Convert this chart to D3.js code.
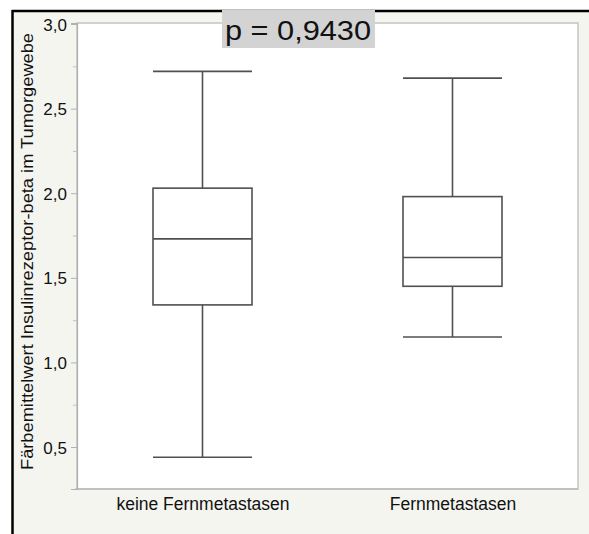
<!DOCTYPE html>
<html>
<head>
<meta charset="utf-8">
<script src="https://cdn.jsdelivr.net/npm/d3@7"></script>
<style>
  html, body { margin: 0; padding: 0; background: #ffffff; }
  svg { display: block; }
  text { font-family: "Liberation Sans", Arial, Helvetica, sans-serif; }
</style>
</head>
<body>
<svg id="chart" width="589" height="534"></svg>
<script>
// Groups and box-plot summaries (whisker low, Q1, median, Q3, whisker high)
const groups = ["keine Fernmetastasen", "Fernmetastasen"];
const whiskerLow = [0.44, 1.15];
const q1 = [1.34, 1.45];
const median = [1.73, 1.62];
const q3 = [2.03, 1.98];
const whiskerHigh = [2.72, 2.68];
const yTicks = [0.5, 1.0, 1.5, 2.0, 2.5, 3.0];
const yMinorTicks = [0.75, 1.25, 1.75, 2.25, 2.75];
const pLabel = "p = 0,9430";
const yTitle = "Färbemittelwert Insulinrezeptor-beta im Tumorgewebe";

const svg = d3.select("#chart");
const W = 589, H = 534;
const plot = { left: 77, right: 578, top: 23, bottom: 489 };

// Outer panel with black frame on top and left
svg.append("rect").attr("x", 12).attr("y", 10).attr("width", W - 12).attr("height", H - 10)
  .attr("fill", "#f5f5f0");
svg.append("line").attr("x1", 12).attr("x2", W).attr("y1", 11).attr("y2", 11)
  .attr("stroke", "#000").attr("stroke-width", 2.5);
svg.append("line").attr("x1", 12.5).attr("x2", 12.5).attr("y1", 10).attr("y2", H)
  .attr("stroke", "#000").attr("stroke-width", 2.5);

// Plot area
svg.append("rect").attr("x", plot.left).attr("y", plot.top)
  .attr("width", plot.right - plot.left).attr("height", plot.bottom - plot.top)
  .attr("fill", "#ffffff").attr("stroke", "#c4c4c4").attr("stroke-width", 1.5);

const y = d3.scaleLinear().domain([0.252, 3.006]).range([plot.bottom, plot.top]);
const x = d3.scalePoint().domain(groups).range([plot.left, plot.right]).padding(0.502);
const boxW = 99;

// Y axis
const fmt = d => d3.format(".1f")(d).replace(".", ",");
const yAxis = svg.append("g").attr("transform", `translate(${plot.left},0)`)
  .call(d3.axisLeft(y).tickValues(yTicks).tickFormat(fmt).tickSize(6).tickPadding(4));
yAxis.select(".domain").attr("stroke", "#b0b0b0").attr("stroke-width", 1.2);
yAxis.selectAll(".tick line").attr("stroke", "#b0b0b0");
yAxis.selectAll(".tick text").attr("fill", "#111").style("font-size", "17px").attr("dy", "0.36em");
svg.append("g").attr("transform", `translate(${plot.left},0)`)
  .call(d3.axisLeft(y).tickValues(yMinorTicks).tickFormat("").tickSize(4))
  .call(g => g.select(".domain").remove())
  .selectAll(".tick line").attr("stroke", "#c0c0c0");

// X axis
const xAxis = svg.append("g").attr("transform", `translate(0,${plot.bottom})`)
  .call(d3.axisBottom(x).tickSize(0).tickPadding(8));
xAxis.select(".domain").attr("stroke", "#b0b0b0").attr("stroke-width", 1.2)
  .attr("d", `M${plot.left - 2},0H${plot.right}`);
xAxis.selectAll(".tick text").attr("fill", "#111").style("font-size", "17.5px")
  .attr("y", 21).attr("dy", 0);

// Y title
svg.append("text")
  .attr("transform", `translate(33,${(33 + 470) / 2}) rotate(-90)`)
  .attr("text-anchor", "middle").attr("fill", "#111").style("font-size", "17px")
  .attr("textLength", 437).attr("lengthAdjust", "spacingAndGlyphs")
  .text(yTitle);

// Boxes
const stroke = "#505050";
groups.forEach((g, i) => {
  const cx = x(g), x0 = cx - boxW / 2, bw = boxW;
  const grp = svg.append("g").attr("stroke", stroke).attr("stroke-width", 1.6).attr("fill", "none");
  grp.append("line").attr("x1", cx).attr("x2", cx).attr("y1", y(whiskerHigh[i])).attr("y2", y(q3[i]));
  grp.append("line").attr("x1", cx).attr("x2", cx).attr("y1", y(q1[i])).attr("y2", y(whiskerLow[i]));
  grp.append("line").attr("x1", x0).attr("x2", x0 + bw).attr("y1", y(whiskerHigh[i])).attr("y2", y(whiskerHigh[i]));
  grp.append("line").attr("x1", x0).attr("x2", x0 + bw).attr("y1", y(whiskerLow[i])).attr("y2", y(whiskerLow[i]));
  grp.append("rect").attr("x", x0).attr("y", y(q3[i])).attr("width", bw).attr("height", y(q1[i]) - y(q3[i]));
  grp.append("line").attr("x1", x0).attr("x2", x0 + bw).attr("y1", y(median[i])).attr("y2", y(median[i]));
});

// p-value label
const pG = svg.append("g");
pG.append("rect").attr("x", 222).attr("y", 10).attr("width", 153).attr("height", 38).attr("fill", "#d3d3d3");
pG.append("text").attr("x", 225).attr("y", 40).attr("fill", "#111").style("font-size", "28px")
  .attr("textLength", 146).attr("lengthAdjust", "spacingAndGlyphs").text(pLabel);
</script>
</body>
</html>
